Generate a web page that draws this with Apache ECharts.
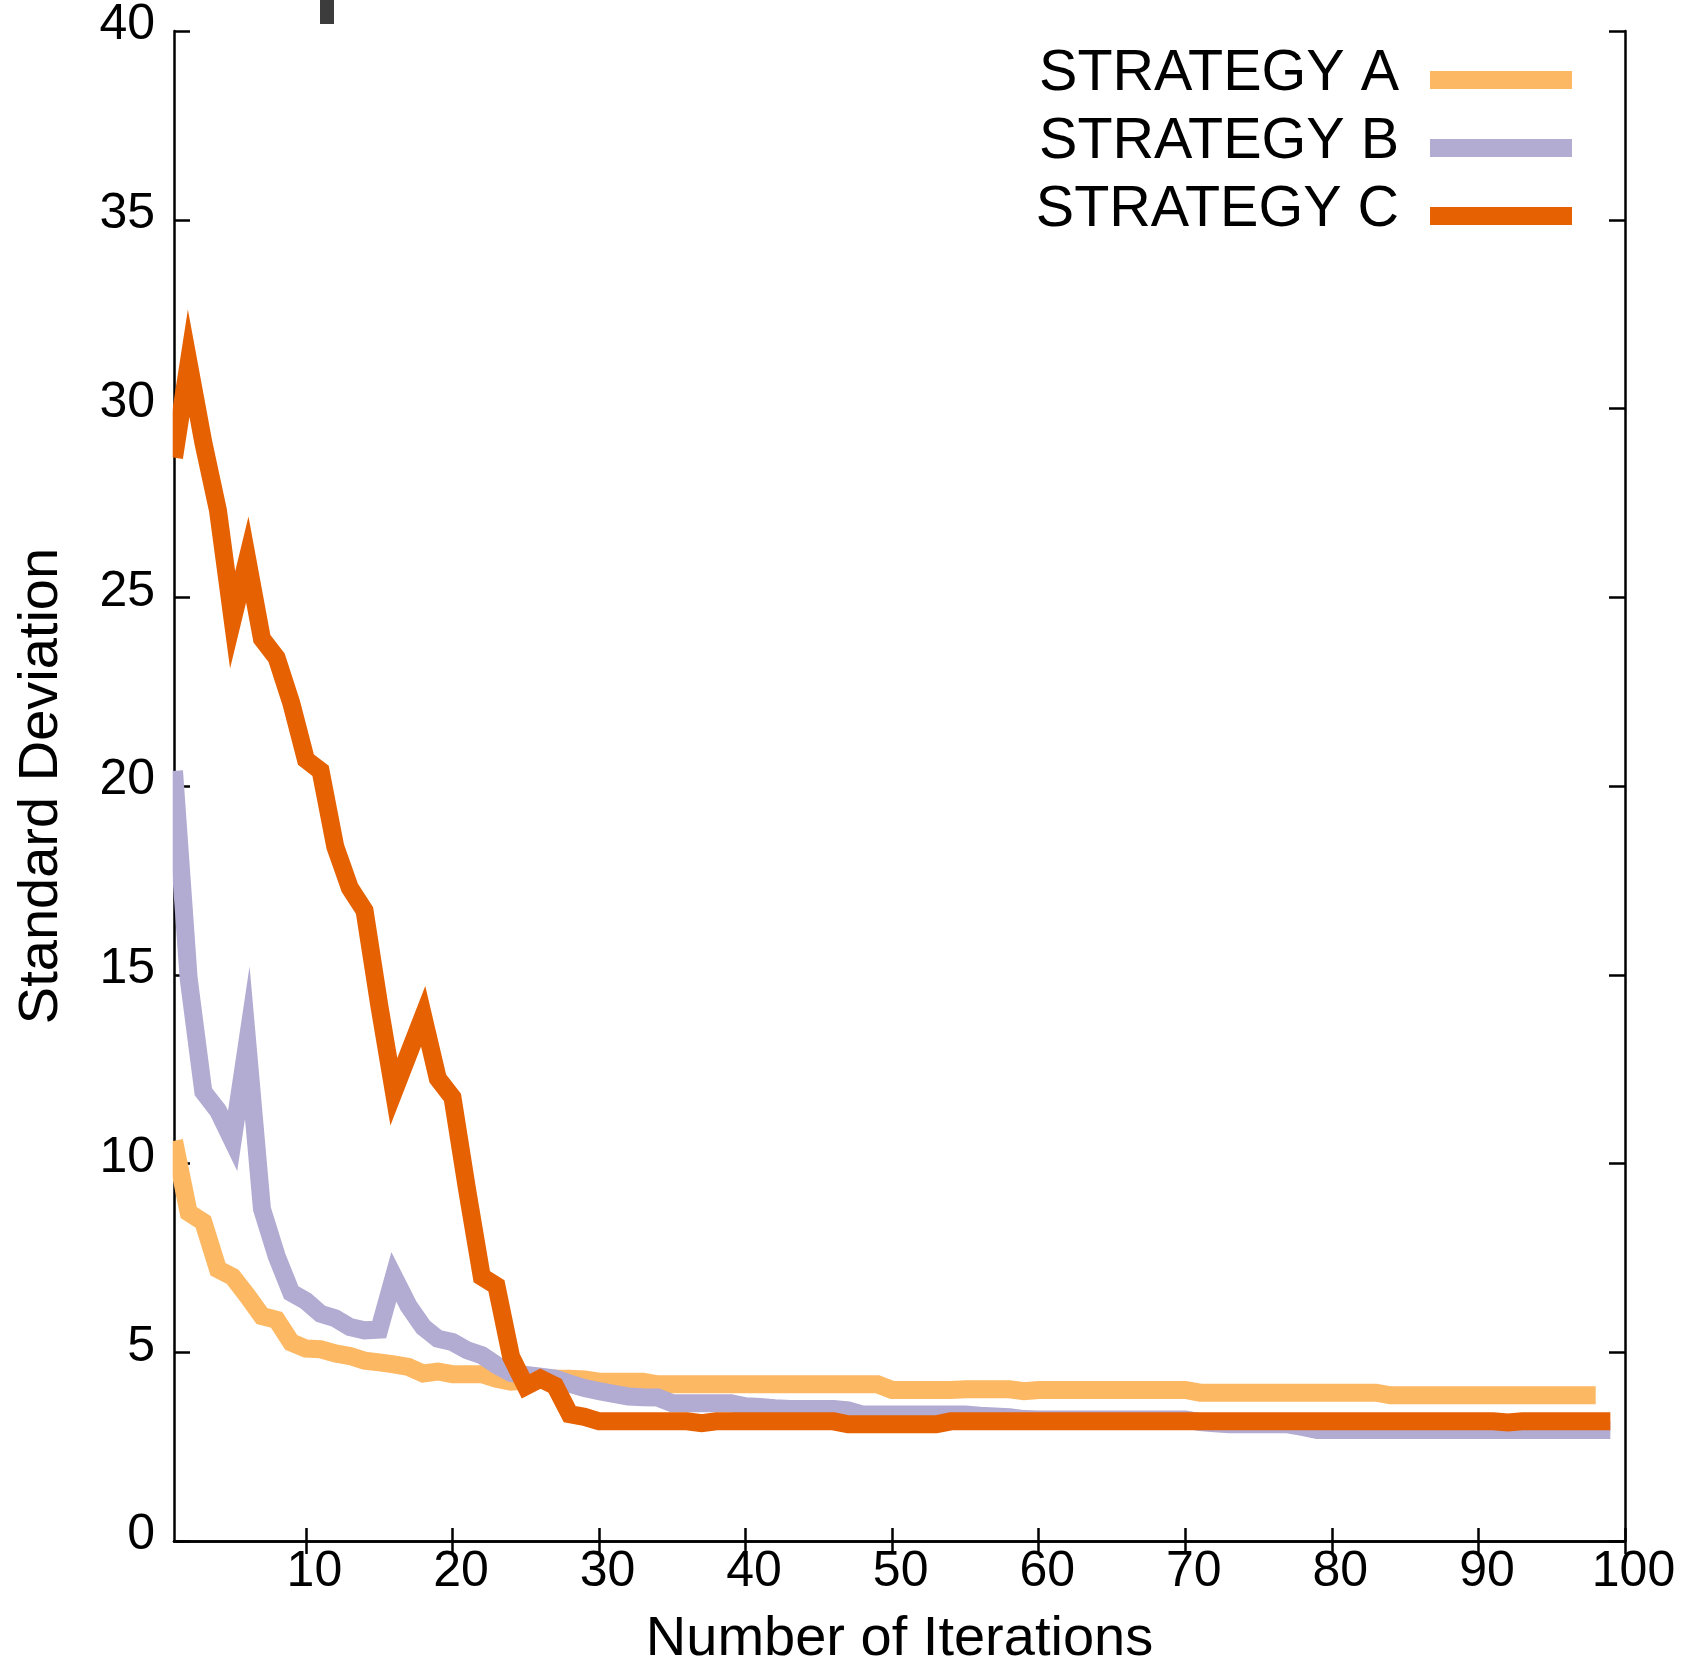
<!DOCTYPE html>
<html>
<head>
<meta charset="utf-8">
<script src="https://cdn.jsdelivr.net/npm/echarts@6/dist/echarts.min.js"></script>
<style>
	html, body { margin: 0; padding: 0; background: #fff; }
	#chart { width: 1695px; height: 1659px; }
</style>
</head>
<body>
<div id="chart"></div>
<script>
var seriesNames = ['STRATEGY A', 'STRATEGY B', 'STRATEGY C'];
var seriesColors = ['#fdb863', '#b2abd2', '#e66101'];

// values per iteration, starting at iteration 1
var strategyA = [10.6, 8.7, 8.45, 7.2, 7.0, 6.5, 5.96, 5.86, 5.26, 5.1,
	5.08, 4.97, 4.9, 4.78, 4.73, 4.68, 4.61, 4.44, 4.49, 4.42,
	4.42, 4.42, 4.3, 4.22, 4.25, 4.3, 4.3, 4.3, 4.28, 4.22,
	4.22, 4.22, 4.22, 4.15, 4.15, 4.15, 4.15, 4.15, 4.15, 4.15,
	4.15, 4.15, 4.15, 4.15, 4.15, 4.15, 4.15, 4.15, 4.15, 4.0,
	4.0, 4.0, 4.0, 4.0, 4.02, 4.02, 4.02, 4.02, 3.97, 4.0,
	4.0, 4.0, 4.0, 4.0, 4.0, 4.0, 4.0, 4.0, 4.0, 4.0,
	3.93, 3.93, 3.93, 3.93, 3.93, 3.93, 3.93, 3.93, 3.93, 3.93,
	3.93, 3.93, 3.93, 3.86, 3.86, 3.86, 3.86, 3.86, 3.86, 3.86,
	3.86, 3.86, 3.86, 3.86, 3.86, 3.86, 3.86, 3.86];
var strategyB = [20.4, 14.9, 11.9, 11.4, 10.6, 13.2, 8.8, 7.55, 6.58, 6.36,
	6.02, 5.9, 5.67, 5.58, 5.6, 7.0, 6.23, 5.67, 5.36, 5.27,
	5.05, 4.92, 4.66, 4.45, 4.4, 4.35, 4.3, 4.17, 4.05, 3.97,
	3.9, 3.83, 3.81, 3.8, 3.65, 3.65, 3.65, 3.65, 3.65, 3.57,
	3.55, 3.52, 3.5, 3.5, 3.5, 3.5, 3.46, 3.35, 3.35, 3.35,
	3.35, 3.35, 3.35, 3.35, 3.35, 3.32, 3.3, 3.28, 3.23, 3.22,
	3.22, 3.22, 3.22, 3.22, 3.22, 3.22, 3.22, 3.22, 3.22, 3.22,
	3.15, 3.12, 3.09, 3.09, 3.09, 3.09, 3.09, 3.02, 2.94, 2.94,
	2.94, 2.94, 2.94, 2.94, 2.94, 2.94, 2.94, 2.94, 2.94, 2.94,
	2.94, 2.94, 2.94, 2.94, 2.94, 2.94, 2.94, 2.94, 2.94];
var strategyC = [28.7, 31.2, 29.1, 27.3, 24.4, 26.0, 23.9, 23.4, 22.2, 20.7,
	20.4, 18.4, 17.3, 16.7, 14.2, 11.9, 12.9, 13.9, 12.25, 11.75,
	9.3, 7.0, 6.76, 4.88, 4.1, 4.3, 4.11, 3.36, 3.29, 3.17,
	3.17, 3.17, 3.17, 3.17, 3.17, 3.17, 3.12, 3.17, 3.17, 3.17,
	3.17, 3.17, 3.17, 3.17, 3.17, 3.17, 3.09, 3.09, 3.09, 3.09,
	3.09, 3.09, 3.09, 3.17, 3.17, 3.17, 3.17, 3.17, 3.17, 3.17,
	3.17, 3.17, 3.17, 3.17, 3.17, 3.17, 3.17, 3.17, 3.17, 3.17,
	3.17, 3.17, 3.17, 3.17, 3.17, 3.17, 3.17, 3.17, 3.17, 3.17,
	3.17, 3.17, 3.17, 3.17, 3.17, 3.17, 3.17, 3.17, 3.17, 3.17,
	3.17, 3.14, 3.17, 3.17, 3.17, 3.17, 3.17, 3.17, 3.17];

var xTicks = [10, 20, 30, 40, 50, 60, 70, 80, 90, 100];

var fontFamily = '"Liberation Sans", Helvetica, Arial, sans-serif';

function toPoints(values) {
	return values.map(function(v, i) {
		return [i + 1, v];
	});
}

var myChart = echarts.init(document.getElementById('chart'));

var axisLine = { show: true, lineStyle: { color: '#000', width: 2.5 } };

// legend swatch sits a bit lower than the text, like the original
var legendIcon = 'path://M0,0L142,0M0,12L142,12L142,30L0,30Z';

var option = {
	animation: false,
	backgroundColor: '#fff',
	grid: { left: 174, right: 70, top: 31, bottom: 118, outerBoundsMode: 'none' },
	legend: {
		orient: 'vertical',
		right: 123,
		top: 45,
		padding: 0,
		align: 'right',
		icon: legendIcon,
		itemWidth: 142,
		itemHeight: 30,
		itemGap: 10,
		itemStyle: { borderWidth: 0 },
		textStyle: {
			fontFamily: fontFamily,
			fontSize: 57.5,
			color: '#000',
			padding: [0, 26, 0, 0]
		},
		data: seriesNames
	},
	xAxis: [{
		type: 'value',
		position: 'bottom',
		min: 1,
		max: 100,
		name: 'Number of Iterations',
		nameLocation: 'middle',
		nameGap: 71,
		nameMoveOverlap: false,
		nameTextStyle: { fontFamily: fontFamily, fontSize: 56, color: '#000' },
		axisLine: axisLine,
		axisTick: { show: true, inside: true, length: 13, customValues: xTicks,
			lineStyle: { color: '#000', width: 2.5 } },
		axisLabel: { show: true, customValues: xTicks, margin: 6, padding: [0, 0, 0, 17],
			fontFamily: fontFamily, fontSize: 50, color: '#000' },
		splitLine: { show: false }
	}, {
		type: 'value',
		position: 'top',
		min: 1,
		max: 100,
		axisLine: axisLine,
		axisTick: { show: true, inside: true, length: 13, customValues: xTicks,
			lineStyle: { color: '#000', width: 2.5 } },
		axisLabel: { show: false },
		splitLine: { show: false }
	}],
	yAxis: [{
		type: 'value',
		position: 'left',
		min: 0,
		max: 40,
		interval: 5,
		name: 'Standard Deviation',
		nameLocation: 'middle',
		nameGap: 104,
		nameMoveOverlap: false,
		nameTextStyle: { fontFamily: fontFamily, fontSize: 56, color: '#000' },
		axisLine: axisLine,
		axisTick: { show: true, inside: true, length: 16,
			lineStyle: { color: '#000', width: 2.5 } },
		axisLabel: {
			margin: 19,
			lineHeight: 11,
			// empty second line lifts the number a little above its tick
			formatter: function(v) { return v + '\n'; },
			fontFamily: fontFamily, fontSize: 50, color: '#000'
		},
		splitLine: { show: false }
	}, {
		type: 'value',
		position: 'right',
		min: 0,
		max: 40,
		interval: 5,
		axisLine: axisLine,
		axisTick: { show: true, inside: true, length: 16,
			lineStyle: { color: '#000', width: 2.5 } },
		axisLabel: { show: false },
		splitLine: { show: false }
	}],
	graphic: [{
		type: 'rect',
		shape: { x: 320, y: 0, width: 14, height: 24 },
		style: { fill: '#3c3c3c' }
	}, {
		// lines are cut at the left border in the original
		type: 'rect',
		z: 100,
		shape: { x: 158, y: 40, width: 14.7, height: 1490 },
		style: { fill: '#fff' }
	}],
	series: [strategyA, strategyB, strategyC].map(function(values, k) {
		return {
			name: seriesNames[k],
			type: 'line',
			xAxisIndex: 0,
			yAxisIndex: 0,
			data: toPoints(values),
			showSymbol: false,
			color: seriesColors[k],
			lineStyle: { width: 18, color: seriesColors[k], join: 'miter', cap: 'butt', miterLimit: 20 }
		};
	})
};

myChart.setOption(option);
</script>
</body>
</html>
